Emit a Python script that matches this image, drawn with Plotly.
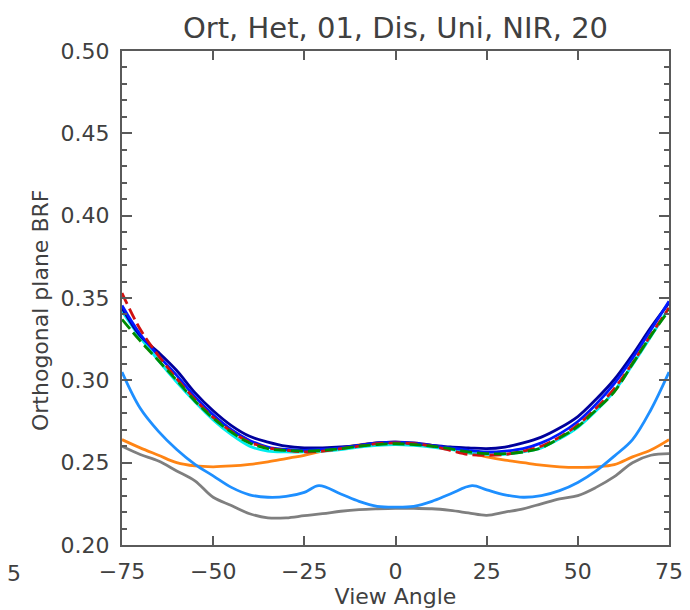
import plotly.graph_objects as go

# View angles (degrees)
angles = [-75, -70, -65, -60, -55, -50, -45, -40, -35, -30, -25, -20, -15, -10, -5,
          0, 5, 10, 15, 20, 25, 30, 35, 40, 45, 50, 55, 60, 65, 70, 75]

red_vals = [0.353, 0.331, 0.315, 0.301, 0.2885, 0.2775, 0.269, 0.2625, 0.259, 0.2575, 0.2565,
            0.257, 0.2585, 0.260, 0.2615, 0.262, 0.2615, 0.260, 0.2575, 0.255, 0.2545,
            0.255, 0.257, 0.260, 0.2655, 0.273, 0.283, 0.295, 0.3105, 0.3275, 0.344]
green_vals = [0.337, 0.324, 0.312, 0.300, 0.2875, 0.277, 0.2685, 0.262, 0.2585, 0.2575, 0.257,
              0.2575, 0.2585, 0.260, 0.261, 0.2615, 0.261, 0.260, 0.2585, 0.2565, 0.2555,
              0.2555, 0.2565, 0.259, 0.265, 0.272, 0.282, 0.293, 0.310, 0.327, 0.3425]
cyan_vals = [0.342, 0.326, 0.312, 0.299, 0.287, 0.276, 0.267, 0.260, 0.257, 0.2565, 0.2565,
             0.257, 0.258, 0.2595, 0.2605, 0.261, 0.2605, 0.2595, 0.258, 0.256, 0.255,
             0.255, 0.2565, 0.259, 0.2645, 0.2715, 0.2815, 0.2935, 0.3095, 0.3265, 0.344]
blue_vals = [0.3455, 0.328, 0.315, 0.303, 0.290, 0.279, 0.270, 0.2635, 0.2595, 0.258, 0.2575,
             0.258, 0.259, 0.2605, 0.262, 0.2625, 0.262, 0.2605, 0.259, 0.2575, 0.2565,
             0.257, 0.2585, 0.262, 0.2675, 0.275, 0.2855, 0.298, 0.3135, 0.3305, 0.348]
navy_vals = [0.344, 0.327, 0.317, 0.306, 0.2925, 0.2815, 0.2725, 0.266, 0.2625, 0.260, 0.259,
             0.259, 0.2595, 0.2605, 0.262, 0.2625, 0.2615, 0.2605, 0.2595, 0.259, 0.2585,
             0.2595, 0.262, 0.2655, 0.271, 0.278, 0.2885, 0.3005, 0.3155, 0.332, 0.347]
orange_vals = [0.264, 0.259, 0.2545, 0.250, 0.248, 0.2475, 0.248, 0.249, 0.2505, 0.2525, 0.2545,
               0.257, 0.259, 0.2608, 0.262, 0.2625, 0.262, 0.2605, 0.2585, 0.256, 0.2535,
               0.2515, 0.250, 0.2485, 0.2475, 0.2472, 0.2475, 0.2488, 0.2535, 0.2577, 0.264]
gray_vals = [0.260, 0.255, 0.251, 0.245, 0.239, 0.229, 0.224, 0.219, 0.2165, 0.2165, 0.2178,
             0.219, 0.2205, 0.2215, 0.222, 0.2223, 0.2222, 0.222, 0.221, 0.2195, 0.218,
             0.220, 0.222, 0.225, 0.228, 0.230, 0.235, 0.2415, 0.250, 0.2545, 0.2555]

lb_angles = [-75, -70, -65, -60, -55, -50, -45, -40, -35, -30, -25, -21, -15, -10, -5,
             0, 5, 10, 15, 21, 25, 30, 35, 40, 45, 50, 55, 60, 65, 70, 75]
lb_vals = [0.305, 0.283, 0.269, 0.258, 0.249, 0.242, 0.235, 0.2305, 0.229, 0.2295, 0.232,
           0.236, 0.231, 0.2265, 0.2235, 0.223, 0.2235, 0.2265, 0.231, 0.236, 0.2335,
           0.2305, 0.229, 0.230, 0.233, 0.238, 0.245, 0.254, 0.264, 0.282, 0.305]

x_ticks = [-75, -50, -25, 0, 25, 50, 75]
title_text = "Ort, Het, 01, Dis, Uni, NIR, 20"
x_title = "View Angle"
y_title = "Orthogonal plane BRF"

FONT = "DejaVu Sans"
TXT = "#404040"
AX = "#5a5a5a"

L, R, T, B = 114, 29, 43, 73
PW, PH = 690 - L - R, 610 - T - B

def px_x(p):
    return (p - L) / PW

def px_y(p):
    return (T + PH - p) / PH

fig = go.Figure()

def add(x, y, color, dash="solid", shape="linear", w=2.8):
    fig.add_trace(go.Scatter(x=x, y=y, mode="lines",
                             line=dict(color=color, width=w, dash=dash, shape=shape),
                             showlegend=False, hoverinfo="skip"))

add(angles, gray_vals, "#7f7f7f", shape="spline")
add(angles, orange_vals, "#ff8414", shape="spline")
add(lb_angles, lb_vals, "#1e8fff", shape="spline")
add(angles, cyan_vals, "#00eeee", shape="spline")
add(angles, navy_vals, "#00009c", shape="spline")
add(angles, blue_vals, "#0018ff", shape="spline")
add(angles, red_vals, "#d01010", dash="12px,5px", shape="spline")
add(angles, green_vals, "#008a00", dash="12px,5px", shape="spline")

fig.update_layout(
    width=690, height=610,
    margin=dict(l=L, r=R, t=T, b=B),
    paper_bgcolor="white", plot_bgcolor="white",
    font=dict(family=FONT, color=TXT, size=22),
    title=dict(text=title_text, x=(L + PW / 2) / 690, xanchor="center",
               y=1 - 20 / 610, yanchor="middle",
               font=dict(family=FONT, size=29, color=TXT)),
    xaxis=dict(range=[-75, 75], tickvals=x_ticks, ticks="inside", ticklen=9,
               tickwidth=1.5, tickcolor=AX, showline=True, linewidth=2, linecolor=AX,
               mirror="allticks", showgrid=False, zeroline=False,
               title=dict(text=x_title, font=dict(size=22), standoff=2),
               ticklabelstandoff=6),
    yaxis=dict(range=[0.20, 0.50], dtick=0.05, tick0=0.20, tickformat=".2f",
               ticks="inside", ticklen=10, tickwidth=1.5, tickcolor=AX,
               showline=True, linewidth=2, linecolor=AX, mirror="allticks",
               showgrid=False, zeroline=False,
               minor=dict(dtick=0.01, ticks="inside", ticklen=5, tickcolor=AX,
                          tickwidth=1.5, showgrid=False),
               ticklabelstandoff=6),
)

fig.add_annotation(text=y_title, xref="paper", yref="paper", textangle=-90,
                   x=px_x(32), y=px_y(303), xanchor="center", yanchor="middle",
                   showarrow=False, font=dict(size=22, color=TXT))
fig.add_annotation(text="5", xref="paper", yref="paper",
                   x=px_x(-3), y=px_y(565), xanchor="left",
                   yanchor="middle", showarrow=False, font=dict(size=22, color=TXT))

fig.write_html("out.html")
